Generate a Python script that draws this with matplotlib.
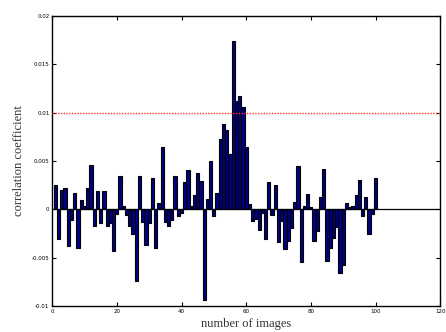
import matplotlib
matplotlib.use('Agg')
import matplotlib.pyplot as plt

# ==========================================
# 1. Data
# ==========================================
image_numbers = list(range(1, 101))

corr_values = [
    0.0025, -0.0031, 0.0020, 0.0022, -0.0038, -0.0011, 0.0017, -0.0040, 0.0010, 0.0003,
    0.0022, 0.0046, -0.0017, 0.0019, -0.0014, 0.0019, -0.0017, -0.0014, -0.0043, -0.0005,
    0.0035, 0.0003, -0.0006, -0.0017, -0.0025, -0.0074, 0.0035, -0.0013, -0.0037, -0.0014,
    0.0032, -0.0040, 0.0007, 0.0065, -0.0013, -0.0017, -0.0011, 0.0035, -0.0007, -0.0004,
    0.0028, 0.0041, 0.0003, 0.0015, 0.0038, 0.0029, -0.0094, 0.0011, 0.0050, -0.0007,
    0.0017, 0.0073, 0.0088, 0.0082, 0.0057, 0.0174, 0.0112, 0.0117, 0.0106, 0.0065,
    0.0006, -0.0012, -0.0010, -0.0021, -0.0004, -0.0031, 0.0028, -0.0006, 0.0025, -0.0034,
    -0.0012, -0.0041, -0.0033, -0.0019, 0.0008, 0.0045, -0.0054, 0.0003, 0.0016, 0.0002,
    -0.0033, -0.0022, 0.0013, 0.0042, -0.0053, -0.0040, -0.0030, -0.0018, -0.0066, -0.0058,
    0.0007, 0.0002, 0.0003, 0.0015, 0.0030, -0.0007, 0.0013, -0.0025, -0.0005, 0.0032,
]

threshold = 0.01

x_ticks = [0, 20, 40, 60, 80, 100, 120]
y_ticks = [-0.01, -0.005, 0, 0.005, 0.01, 0.015, 0.02]
y_tick_labels = ['-0.01', '-0.005', '0', '0.005', '0.01', '0.015', '0.02']

# ==========================================
# 2. Figure and axes
# ==========================================
fig = plt.figure(figsize=(4.46, 3.32), dpi=100)
ax = fig.add_axes([0.117, 0.078, 0.870, 0.874])

ax.bar(image_numbers, corr_values, width=1.0, color='#000080',
       edgecolor='black', linewidth=0.8, zorder=2)

ax.axhline(0, color='black', linewidth=0.9, zorder=3)
ax.axhline(threshold, color='#ff3030', linestyle=(0, (1, 1)), linewidth=1.0, zorder=3)

ax.set_xlim(0, 120)
ax.set_ylim(-0.01, 0.02)
ax.set_xticks(x_ticks)
ax.set_yticks(y_ticks)
ax.set_yticklabels(y_tick_labels)

ax.tick_params(direction='in', length=3, width=0.8, top=True, right=True,
               labelsize=4, pad=2, colors='black')
for s in ax.spines.values():
    s.set_linewidth(1.0)

ax.set_xlabel('number of images', family='Liberation Serif', fontsize=9,
              color='#333333', labelpad=3)
ax.set_ylabel('correlation coefficient', family='Liberation Serif', fontsize=9,
              color='#333333', labelpad=5)

plt.savefig('out.png', dpi=100)
